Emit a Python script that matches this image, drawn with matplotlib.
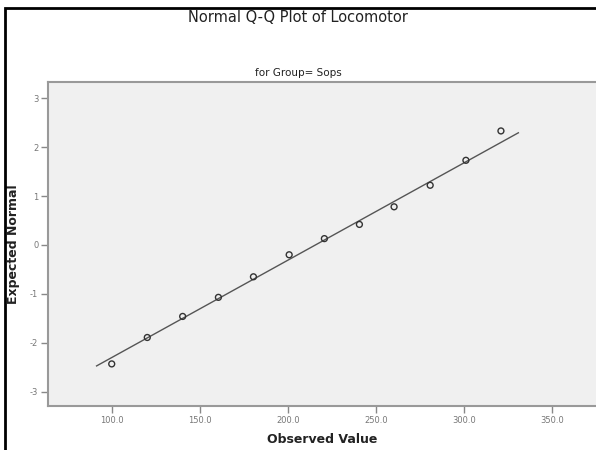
import matplotlib
matplotlib.use("Agg")
import matplotlib.pyplot as plt
import numpy as np

observed = [99.7, 119.9, 140.0, 160.3, 180.2, 200.5, 220.5, 240.4, 260.1, 280.6, 300.9, 320.8]
expected = [-2.43, -1.89, -1.46, -1.07, -0.65, -0.20, 0.13, 0.42, 0.78, 1.22, 1.73, 2.33]

# reference line: expected = (x - mean) / sd
line_mean = 215.4
line_sd = 50.3
line_x = [91.1, 330.7]

x_ticks = [100, 150, 200, 250, 300, 350]
x_labels = ["100.0", "150.0", "200.0", "250.0", "300.0", "350.0"]
y_ticks = [-3, -2, -1, 0, 1, 2, 3]
y_labels = ["-3", "-2", "-1", "0", "1", "2", "3"]

W, H = 596, 450
fig = plt.figure(figsize=(W / 100, H / 100), dpi=100)

# outer black frame
fig.patches.append(plt.Rectangle((5 / W, -0.01), 1.02, 1 - 8 / H + 0.01,
                                 transform=fig.transFigure, fill=False,
                                 edgecolor="black", linewidth=2))

left, top, bottom, right = 48, 82, 406, 596
ax = fig.add_axes([left / W, 1 - bottom / H, (right - left) / W, (bottom - top) / H])
ax.set_facecolor("#f0f0f0")

lx = np.array(line_x)
ax.plot(lx, (lx - line_mean) / line_sd, color="#555555", linewidth=1.0, zorder=2)
ax.scatter(observed, expected, s=18, facecolors="none", edgecolors="#333333",
           linewidths=1.0, zorder=3)

ax.set_xlim(63.5, 374.8)
ax.set_ylim(-3.29, 3.33)
ax.set_xticks(x_ticks)
ax.set_xticklabels(x_labels)
ax.set_yticks(y_ticks)
ax.set_yticklabels(y_labels)
ax.tick_params(direction="out", length=5, width=1, color="#888888",
               labelsize=6, labelcolor="#777777", pad=2)

for side in ["left", "bottom", "top"]:
    ax.spines[side].set_color("#999999")
    ax.spines[side].set_linewidth(1.5)
ax.spines["right"].set_visible(False)

ax.set_xlabel("Observed Value", fontsize=9, fontweight="bold", color="#222222")
ax.xaxis.set_label_coords(0.5, -(433 - bottom) / (bottom - top))
ax.set_ylabel("Expected Normal", fontsize=9, fontweight="bold", color="#222222")
ax.yaxis.set_label_coords(-(left - 20) / (right - left), 0.5)

fig.text(0.5, 1 - 18 / H, "Normal Q-Q Plot of Locomotor", ha="center", va="center",
         fontsize=10.5, color="#222222")
fig.text(0.5, 1 - 73 / H, "for Group= Sops", ha="center", va="center",
         fontsize=7.5, color="#222222")

fig.savefig("out.png", dpi=100)
